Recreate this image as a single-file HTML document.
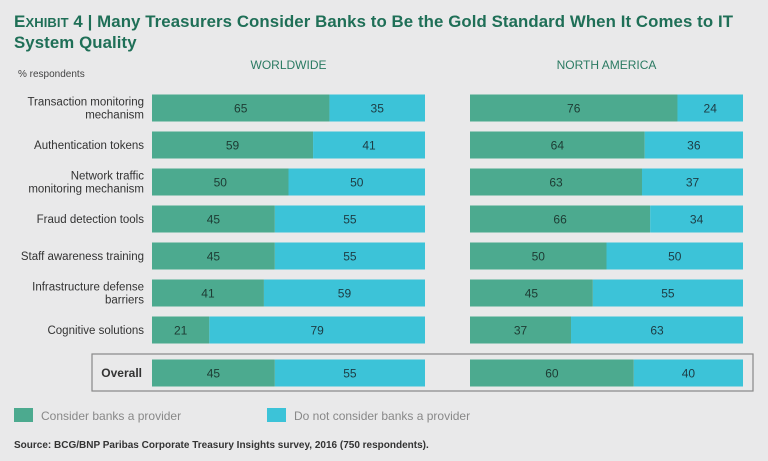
<!DOCTYPE html>
<html><head><meta charset="utf-8"><style>
body{margin:0;width:768px;height:461px;background:#e9e9ea;font-family:"Liberation Sans",sans-serif;overflow:hidden;position:relative}
.t{position:absolute;left:14px;top:12px;font-size:16.8px;font-weight:bold;color:#1f6f57;line-height:20px;letter-spacing:0.1px}
svg{position:absolute;left:0;top:0}
</style></head><body>
<div class="t"><span style="font-size:17px">E</span><span style="font-size:13px">XHIBIT</span> 4 | Many Treasurers Consider Banks to Be the Gold Standard When It Comes to IT<br>System Quality</div>
<svg id="c" width="768" height="461"></svg>
<script>
const categories=["Transaction monitoring|mechanism","Authentication tokens","Network traffic|monitoring mechanism","Fraud detection tools","Staff awareness training","Infrastructure defense|barriers","Cognitive solutions","Overall"];
const worldwide=[65,59,50,45,45,41,21,45];
const northAmerica=[76,64,63,66,50,45,37,60];
const panels=[{title:"WORLDWIDE",x0:152,x1:425,vals:worldwide},{title:"NORTH AMERICA",x0:470,x1:743,vals:northAmerica}];
const G="#4caa8f",C="#3cc3d8";
const s=document.getElementById('c');const NS="http://www.w3.org/2000/svg";
function mk(t,a,txt){const e=document.createElementNS(NS,t);for(const k in a)e.setAttribute(k,a[k]);if(txt!=null)e.textContent=txt;s.appendChild(e);return e;}
function yc(i){return i<7?108+i*37:373;}
let e=mk('rect',{x:92,y:354,width:661,height:37,fill:"none",stroke:"#888","stroke-width":1.2});

e=mk('text',{x:18,y:77,"font-size":10,fill:"#444"},"% respondents");

categories.forEach((c,i)=>{const lines=c.split('|');const y=yc(i);
 lines.forEach((l,j)=>{const t=mk('text',{x:i==7?142:144,y:y+4+(j-(lines.length-1)/2)*13,"text-anchor":"end","font-size":i==7?12:11.5,"font-weight":i==7?"bold":"normal",fill:"#333"},l);
 });});
panels.forEach((p,pi)=>{const w=p.x1-p.x0;const sx=v=>v/100*w;
 const h=mk('text',{x:(p.x0+p.x1)/2,y:69,"text-anchor":"middle","font-size":12,fill:"#2a7a62"},p.title);
 
 p.vals.forEach((v,i)=>{const y=yc(i)-13.5;
  let r=mk('rect',{x:p.x0,y:y,width:sx(v),height:27,fill:G});
  
  r=mk('rect',{x:p.x0+sx(v),y:y,width:sx(100-v),height:27,fill:C});
  
  let t=mk('text',{x:p.x0+sx(v)/2,y:y+18,"text-anchor":"middle","font-size":12,fill:"#1d3b33"},v);
  
  t=mk('text',{x:p.x0+sx(v)+sx(100-v)/2,y:y+18,"text-anchor":"middle","font-size":12,fill:"#1d3b43"},100-v);
  });});
e=mk('rect',{x:14,y:408,width:19,height:14,fill:G});
e=mk('text',{x:41,y:420,"font-size":12,fill:"#888"},"Consider banks a provider");
e=mk('rect',{x:267,y:408,width:19,height:14,fill:C});
e=mk('text',{x:294,y:420,"font-size":12,fill:"#888"},"Do not consider banks a provider");
e=mk('text',{x:14,y:448,"font-size":10,"font-weight":"bold",fill:"#333"},"Source: BCG/BNP Paribas Corporate Treasury Insights survey, 2016 (750 respondents).");

</script>
</body></html>
